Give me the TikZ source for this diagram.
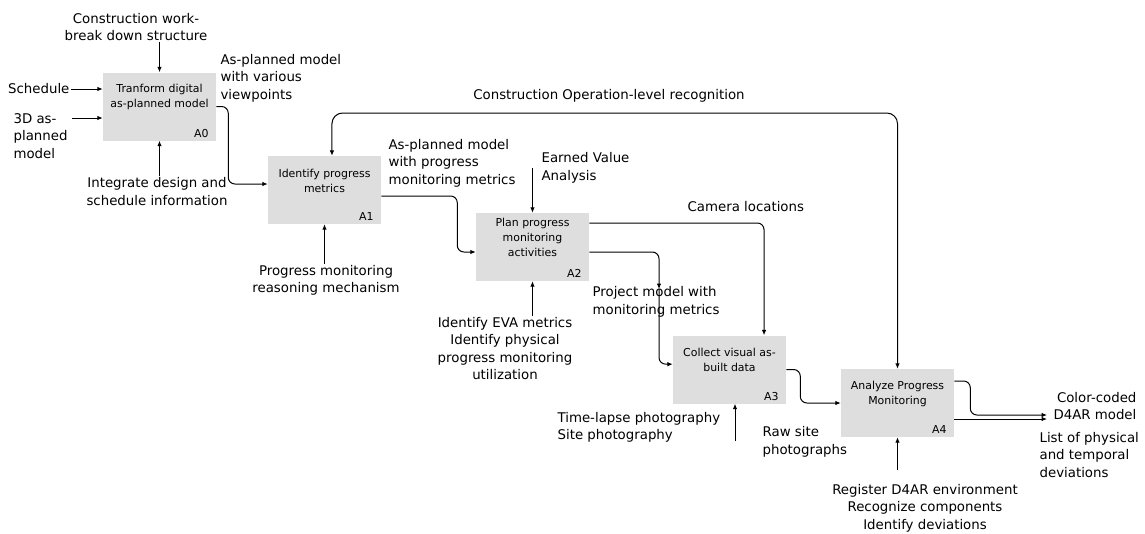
\documentclass[tikz,border=0pt]{standalone}
\usepackage{fontspec}
\setmainfont{DejaVu Sans}
\usetikzlibrary{arrows.meta,positioning}
\definecolor{boxgray}{RGB}{222,222,222}

\begin{document}
\begin{tikzpicture}[
    x=0.75pt, y=-0.75pt,
    actbox/.style={rectangle, fill=boxgray, minimum width=84.75pt, minimum height=51pt, inner sep=0pt},
    boxtext/.style={font=\fontsize{8.2}{11.25}\selectfont, align=center, inner sep=0pt},
    idlabel/.style={font=\fontsize{8.2}{10}\selectfont, anchor=south east, inner xsep=5.5pt, inner ysep=2.5pt},
    note/.style={font=\fontsize{10}{13.1}\selectfont, inner sep=1pt},
    flow/.style={-{Latex[length=4pt,width=3.4pt]}, line width=0.75pt, rounded corners=5pt},
    twoway/.style={{Latex[length=4pt,width=3.4pt]}-{Latex[length=4pt,width=3.4pt]}, line width=0.75pt, rounded corners=8pt}
]
\useasboundingbox (0,0) rectangle (1145,533);

% Activity boxes
\node[actbox] (A0) at (159.5,106.5) {};
\node[actbox] (A1) at (324.5,190) {};
\node[actbox] (A2) at (532.5,247) {};
\node[actbox] (A3) at (729.5,369.5) {};
\node[actbox] (A4) at (897.5,403) {};

\node[boxtext] (A0t) at ([yshift=7pt]A0.center) {Tranform digital\\as-planned model};
\node[boxtext] (A1t) at ([yshift=7pt]A1.center) {Identify progress\\metrics};
\node[boxtext] (A2t) at ([yshift=7pt]A2.center) {Plan progress\\monitoring\\activities};
\node[boxtext] (A3t) at ([yshift=7pt]A3.center) {Collect visual as-\\built data};
\node[boxtext] (A4t) at ([yshift=7pt]A4.center) {Analyze Progress\\Monitoring};

\node[idlabel] (A0id) at (A0.south east) {A0};
\node[idlabel] (A1id) at (A1.south east) {A1};
\node[idlabel] (A2id) at (A2.south east) {A2};
\node[idlabel] (A3id) at (A3.south east) {A3};
\node[idlabel] (A4id) at (A4.south east) {A4};

% Labels
\node[note, align=center] (cwbs) at (136,27) {Construction work-\\break down structure};
\node[note, anchor=east] (sched) at (71,89) {Schedule};
\node[note, align=left, anchor=west] (model3d) at (12,136) {3D as-\\planned\\model};
\node[note, align=center] (integ) at (157,191.5) {Integrate design and\\schedule information};
\node[note, align=left, anchor=west] (asplan0) at (219,78) {As-planned model\\with various\\viewpoints};
\node[note] (opsrec) at (609,96) {Construction Operation-level recognition};
\node[note, align=center] (pmrm) at (326,280.5) {Progress monitoring\\reasoning mechanism};
\node[note, align=left, anchor=west] (asplan1) at (387,163) {As-planned model\\with progress\\monitoring metrics};
\node[note, align=left, anchor=west] (eva) at (540,168) {Earned Value\\Analysis};
\node[note, align=center] (evam) at (505,348.5) {Identify EVA metrics\\Identify physical\\progress monitoring\\utilization};
\node[note, anchor=west] (camera) at (686,207) {Camera locations};
\node[note, align=left, anchor=west] (projm) at (591,302) {Project model with\\monitoring metrics};
\node[note, align=left, anchor=west] (photo) at (556,427.5) {Time-lapse photography\\Site photography};
\node[note, align=left, anchor=west] (raw) at (761,442) {Raw site\\photographs};
\node[note, align=center] (d4ar) at (925,508) {Register D4AR environment\\Recognize components\\Identify deviations};
\node[note, align=right, anchor=east] (colorc) at (1138,406) {Color-coded\\D4AR model};
\node[note, align=left, anchor=west] (listdev) at (1038,455) {List of physical\\and temporal\\deviations};

% Free ends
\coordinate (in3d) at (72,118);
\coordinate (looptop) at (609,113);
\coordinate (projtip) at (659,289);
\coordinate (in3) at (735,441);
\coordinate (in4) at (897.5,470);
\coordinate (out4a) at (1047,415);
\coordinate (out4b) at (1047,419);

% A0
\draw[flow] (sched.east) -- (A0.west |- sched.east);
\draw[flow] (in3d) -- (A0.west |- in3d);
\draw[flow] (A0.north |- cwbs.south) -- (A0.north);
\draw[flow] (A0.south |- integ.north) -- (A0.south);
\draw[flow] (A0.east) -- ++(12,0) |- ([yshift=4.5pt]A1.west);

% A1
\draw[twoway] ([xshift=5.6pt]A1.north) |- (looptop) -| (A4.north);
\draw[flow] (A1.south |- pmrm.north) -- (A1.south);
\draw[flow] ([yshift=-4.5pt]A1.east) -- ++(76,0) |- ([yshift=-3.75pt]A2.west);

% A2
\draw[flow] (A2.north |- eva.center) -- (A2.north);
\draw[flow] (A2.south |- evam.north) -- (A2.south);
\draw[flow] ([yshift=18pt]A2.east) -| ([xshift=25.9pt]A3.north);
\draw[flow] ([yshift=-3.75pt]A2.east) -| (projtip);
\draw[flow] (projtip) |- ([yshift=4pt]A3.west);

% A3
\draw[flow] (in3) -- (A3.south -| in3);
\draw[flow] (A3.east) -- ++(14,0) |- (A4.west);

% A4
\draw[flow] (in4) -- (A4.south);
\draw[flow] ([yshift=16.5pt]A4.east) -- ++(16,0) |- (out4a);
\draw[flow] ([yshift=-12pt]A4.east) -- (out4b);

\end{tikzpicture}
\end{document}
